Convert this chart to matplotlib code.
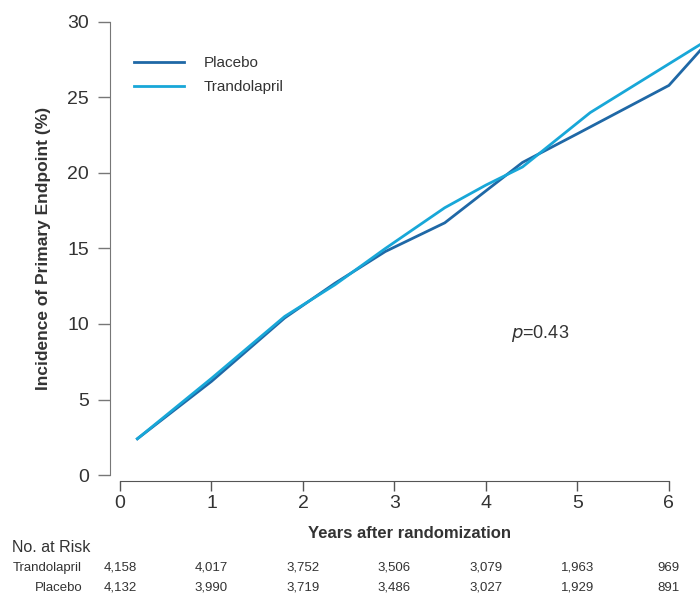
import matplotlib
matplotlib.use('Agg')
import matplotlib.pyplot as plt
import matplotlib.transforms as mtransforms

plt.rcParams['font.family'] = ['Liberation Sans Narrow', 'Liberation Sans', 'DejaVu Sans']

# cumulative incidence curves (years, %)
placebo_x = [0.19, 1.0, 1.8, 2.35, 2.9, 3.55, 4.4, 5.0, 6.0, 6.34]
placebo_y = [2.4, 6.2, 10.4, 12.7, 14.8, 16.7, 20.7, 22.6, 25.8, 28.1]
trando_x = [0.19, 1.0, 1.8, 2.35, 2.9, 3.55, 4.0, 4.4, 5.14, 6.34]
trando_y = [2.4, 6.4, 10.5, 12.6, 15.0, 17.7, 19.2, 20.4, 24.0, 28.5]

years = [0, 1, 2, 3, 4, 5, 6]
risk_trando = ['4,158', '4,017', '3,752', '3,506', '3,079', '1,963', '969']
risk_placebo = ['4,132', '3,990', '3,719', '3,486', '3,027', '1,929', '891']

DARK = '#1f68a6'
LIGHT = '#18a7d8'
TXT = '#333333'
AX = '#777777'

fig = plt.figure(figsize=(7, 5.96), dpi=100)
ax = fig.add_axes([120 / 700, 121 / 596, 580 / 700, 453 / 596])

ax.plot(placebo_x, placebo_y, color=DARK, lw=2, label='Placebo', solid_joinstyle='miter')
ax.plot(trando_x, trando_y, color=LIGHT, lw=2, label='Trandolapril', solid_joinstyle='miter')

ax.set_xlim(0, 6.34)
ax.set_ylim(0, 30)
ax.set_xticks(years)
ax.set_yticks([0, 5, 10, 15, 20, 25, 30])

for s in ['top', 'right']:
    ax.spines[s].set_visible(False)
ax.spines['left'].set_position(('outward', 7.2))
ax.spines['bottom'].set_position(('outward', 4.3))
ax.spines['left'].set_bounds(0, 30)
ax.spines['bottom'].set_bounds(0, 6)
ax.spines['left'].set_color(AX)
ax.spines['bottom'].set_color('#555555')
ax.tick_params(axis='y', length=9, width=1, color=AX, labelsize=14, labelcolor=TXT, pad=6)
ax.tick_params(axis='x', length=7, width=1, color='#555555', labelsize=14, labelcolor=TXT, pad=3)

ax.set_ylabel('Incidence of Primary Endpoint (%)', fontsize=12.5, fontweight='bold',
              color=TXT, labelpad=12)
ax.set_xlabel('Years after randomization', fontsize=12, fontweight='bold', color=TXT, labelpad=10)

ax.legend(loc='upper left', bbox_to_anchor=(0.0, 0.955), frameon=False, fontsize=11,
          handlelength=3.3, handletextpad=1.3, labelspacing=0.65, labelcolor=TXT)

ax.text(4.27, 9.1, r'$p$=0.43', fontsize=13, color=TXT)

# number at risk table
trans = mtransforms.blended_transform_factory(ax.transData, fig.transFigure)
fig.text(12 / 700, 1 - 547 / 596, 'No. at Risk', fontsize=11.5, color=TXT, va='center')
fig.text(82 / 700, 1 - 568 / 596, 'Trandolapril', fontsize=9.5, color=TXT, va='center', ha='right')
fig.text(82 / 700, 1 - 588 / 596, 'Placebo', fontsize=9.5, color=TXT, va='center', ha='right')
for yr, a, b in zip(years, risk_trando, risk_placebo):
    ax.text(yr, 1 - 568 / 596, a, transform=trans, fontsize=9.5, color=TXT, ha='center', va='center')
    ax.text(yr, 1 - 588 / 596, b, transform=trans, fontsize=9.5, color=TXT, ha='center', va='center')

fig.savefig('out.png', dpi=100)
